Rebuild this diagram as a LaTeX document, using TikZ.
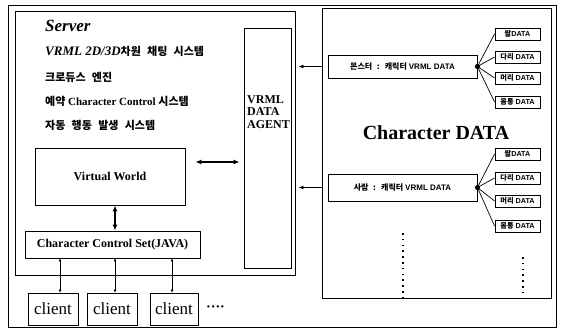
\documentclass[tikz,border=0pt]{standalone}
\usepackage{fontspec}
\setmainfont{Liberation Serif}
\newfontfamily\kr[WordSpace=2.5]{Noto Sans CJK KR}
\newfontfamily\arl{Liberation Sans}
\usetikzlibrary{arrows.meta,calc}
\begin{document}
\begin{tikzpicture}[x=1pt,y=-1pt,
  box/.style={draw,line width=0.9pt,inner sep=0pt,anchor=center},
  dbox/.style={box,minimum width=45pt,minimum height=12pt,font=\fontsize{7.2}{8}\selectfont\bfseries},
  cbox/.style={box,minimum height=32pt,font=\fontsize{17}{18}\selectfont},
  dar/.style={{Latex[length=6pt,width=5pt]}-{Latex[length=6pt,width=5pt]},line width=1.2pt},
  sar/.style={{Latex[length=3pt,width=3pt]}-{Latex[length=3pt,width=3pt]},line width=0.7pt},
  fan/.style={line width=0.7pt},
  ltxt/.style={anchor=base west,inner sep=0pt}]
\useasboundingbox (0,0) rectangle (563,332);
% frames
\node[box,minimum width=548pt,minimum height=322pt] (outer) at (282,166) {};
\node[box,minimum width=280pt,minimum height=264pt] (server) at (155,143) {};
\node[box,minimum width=47pt,minimum height=240pt] (agent) at (267.5,148) {};
\node[box,minimum width=229pt,minimum height=290pt] (chardata) at (436.5,153) {};
% server texts
\node[ltxt,font=\fontsize{17}{18}\selectfont\bfseries\itshape] (srv) at (45,31) {Server};
\node[ltxt,font=\fontsize{11}{12}\selectfont\bfseries] (l1) at (45,56) {{\itshape\fontsize{13}{14}\selectfont VRML 2D/3D}{\kr\bfseries 차원 채팅 시스템}};
\node[ltxt,font=\fontsize{11}{12}\selectfont\bfseries] (l2) at (45,81) {{\kr\bfseries 크로듀스 엔진}};
\node[ltxt,font=\fontsize{11}{12}\selectfont\bfseries] (l3) at (45,105) {{\kr\bfseries 예약} Character Control {\kr\bfseries 시스템}};
\node[ltxt,font=\fontsize{11}{12}\selectfont\bfseries] (l4) at (45,129) {{\kr\bfseries 자동 행동 발생 시스템}};
\node[anchor=north west,inner sep=0pt,align=left,font=\fontsize{12}{12.5}\selectfont\bfseries] (agtxt) at (247,95) {VRML\\DATA\\AGENT};
% virtual world and control set
\node[box,minimum width=150pt,minimum height=57pt,font=\fontsize{12}{13}\selectfont\bfseries] (vw) at (110,176.5) {Virtual World};
\node[box,minimum width=175pt,minimum height=27pt,font=\fontsize{12}{13}\selectfont\bfseries] (ccs) at (112.5,244.5) {Character Control Set(JAVA)};
\coordinate (vwA) at ([shift={(10,-14.5)}]vw.east);
\coordinate (agA) at (agent.west |- vwA);
\draw[dar] (vwA) -- ([xshift=-4pt]agA);
\draw[dar] ([xshift=5pt]vw.south) -- ([xshift=5pt]vw.south |- ccs.north);
% clients
\node[cbox,minimum width=50pt] (c1) at (53,309) {client};
\node[cbox,minimum width=50pt] (c2) at (112,309) {client};
\node[cbox,minimum width=48pt] (c3) at (174,309) {client};
\node[anchor=base west,inner sep=0pt,font=\fontsize{14}{14}\selectfont\bfseries] (more) at (206,311) {····};
\coordinate (t1) at ([xshift=7pt]c1.north);
\coordinate (t2) at ([xshift=3pt]c2.north);
\coordinate (t3) at ([xshift=-2pt]c3.north);
\draw[sar] (t1 |- ccs.south) -- (t1);
\draw[sar] (t2 |- ccs.south) -- (t2);
\draw[sar] (t3 |- ccs.south) -- (t3);
% character data
\node[anchor=center,inner sep=0pt,font=\fontsize{20}{22}\selectfont\bfseries] (cdt) at (436,133) {Character DATA};
\node[box,minimum width=149pt,minimum height=23pt,font=\fontsize{8}{9}\selectfont\bfseries] (monster) at (402.5,66.5) {{\kr\bfseries 몬스터 : 캐릭터} {\arl\bfseries VRML DATA}};
\node[box,minimum width=149pt,minimum height=27pt,font=\fontsize{8}{9}\selectfont\bfseries] (person) at (402.5,187.5) {{\kr\bfseries 사람 : 캐릭터} {\arl\bfseries VRML DATA}};
\node[dbox] (m1) at (517.5,34) {{\kr\bfseries 팔}{\arl\bfseries DATA}};
\node[dbox] (m2) at (517.5,57) {{\kr\bfseries 다리}{\arl\bfseries\ DATA}};
\node[dbox] (m3) at (517.5,78) {{\kr\bfseries 머리}{\arl\bfseries\ DATA}};
\node[dbox] (m4) at (517.5,102) {{\kr\bfseries 몸통}{\arl\bfseries\ DATA}};
\node[dbox] (p1) at (517.5,154) {{\kr\bfseries 팔}{\arl\bfseries DATA}};
\node[dbox] (p2) at (517.5,178) {{\kr\bfseries 다리}{\arl\bfseries\ DATA}};
\node[dbox] (p3) at (517.5,201) {{\kr\bfseries 머리}{\arl\bfseries\ DATA}};
\node[dbox] (p4) at (517.5,226) {{\kr\bfseries 몸통}{\arl\bfseries\ DATA}};
\foreach \t in {m1,m2,m3,m4} \draw[fan] (monster.east) -- (\t.west);
\foreach \t in {p1,p2,p3,p4} \draw[fan] (person.east) -- (\t.west);
\fill (monster.east) circle (2.6pt);
\fill (person.east) circle (2.6pt);
\draw[-{Latex[length=5pt,width=4pt]},line width=0.9pt,shorten >=3pt] (monster.west -| chardata.west) -- (monster.west -| server.east);
\draw[-{Latex[length=5pt,width=4pt]},line width=0.9pt,shorten >=3pt] (person.west -| chardata.west) -- (person.west -| server.east);
% dotted continuation marks
\draw[line width=1.6pt,dash pattern=on 1.6pt off 4.2pt] (403,233) -- (403,297);
\draw[line width=1.6pt,dash pattern=on 1.6pt off 4.2pt] (523,257) -- (523,297);
\end{tikzpicture}
\end{document}
